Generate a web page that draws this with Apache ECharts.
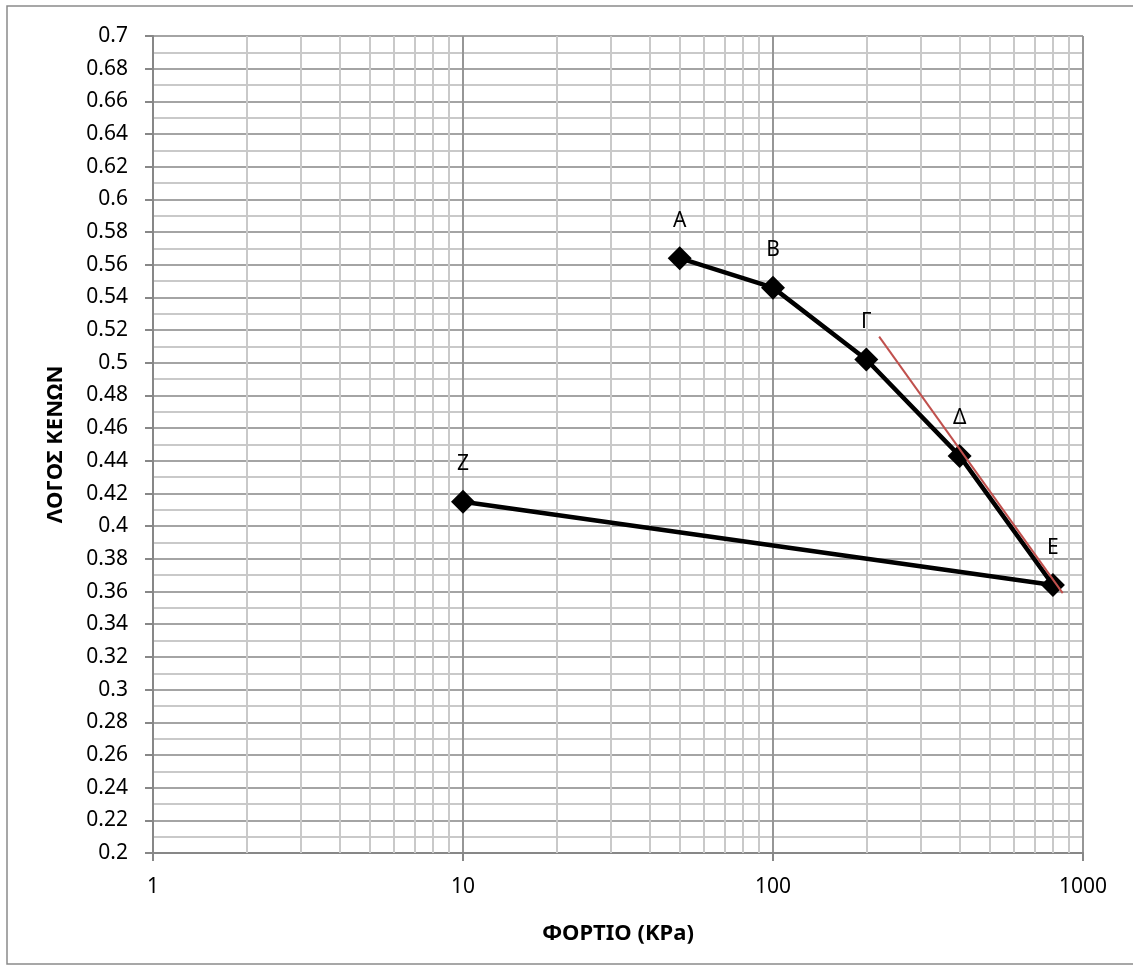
<!DOCTYPE html>
<html>
<head>
<meta charset="utf-8">
<script src="https://cdn.jsdelivr.net/npm/echarts@6/dist/echarts.min.js"></script>
<style>
  html, body { margin: 0; padding: 0; background: #ffffff; }
  #chart { width: 1133px; height: 971px; }
</style>
</head>
<body>
<div id="chart"></div>
<script>
// Oedometer test: void ratio against applied load (log scale)
const loads = [50, 100, 200, 400, 800, 10];
const voidRatios = [0.564, 0.546, 0.502, 0.443, 0.364, 0.415];
const pointNames = ['Α', 'Β', 'Γ', 'Δ', 'Ε', 'Ζ'];

// Tangent to the virgin compression branch
const tangentLoads = [220, 860];
const tangentRatios = [0.516, 0.359];

// Intermediate log-cycle grid lines (2..9 in each decade)
const minorLoads = [2, 3, 4, 5, 6, 7, 8, 9,
                    20, 30, 40, 50, 60, 70, 80, 90,
                    200, 300, 400, 500, 600, 700, 800, 900];

const xTitle = 'ΦΟΡΤΙΟ (KPa)';
const yTitle = 'ΛΟΓΟΣ ΚΕΝΩΝ';

const FONT = '"Noto Sans", "Open Sans", sans-serif';
const AXIS_GREY = '#878787';
const MAJOR_GREY = '#a4a4a4';
const MINOR_GREY = '#c9c9c9';

const curve = loads.map((x, i) => ({ value: [x, voidRatios[i]], name: pointNames[i] }));
const tangent = tangentLoads.map((x, i) => [x, tangentRatios[i]]);

const chart = echarts.init(document.getElementById('chart'), null, { renderer: 'canvas' });

chart.setOption({
  backgroundColor: '#ffffff',
  animation: false,
  graphic: [{
    type: 'rect',
    shape: { x: 7, y: 6, width: 1140, height: 958 },
    style: { fill: 'none', stroke: '#8a8a8a', lineWidth: 1.5 },
    z: -1
  }],
  grid: { left: 153, right: 50, top: 36, bottom: 118, containLabel: false },
  xAxis: {
    type: 'log',
    logBase: 10,
    min: 1,
    max: 1000,
    name: xTitle,
    nameLocation: 'middle',
    nameGap: 70,
    nameTextStyle: { fontFamily: FONT, fontSize: 22, fontWeight: 'bold', color: '#000' },
    axisLine: { show: true, lineStyle: { color: AXIS_GREY, width: 2 } },
    axisTick: { show: true, inside: false, length: 8, lineStyle: { color: AXIS_GREY, width: 2 } },
    axisLabel: { fontFamily: FONT, fontSize: 21, color: '#000', margin: 24, formatter: v => String(v) },
    splitLine: { show: true, lineStyle: { color: '#969696', width: 2 } },
    minorTick: { show: false },
    minorSplitLine: { show: false }
  },
  yAxis: {
    type: 'value',
    min: 0.2,
    max: 0.7,
    interval: 0.02,
    name: yTitle,
    nameLocation: 'middle',
    nameGap: 86,
    nameRotate: 90,
    nameTextStyle: { fontFamily: FONT, fontSize: 22, fontWeight: 'bold', color: '#000' },
    axisLine: { show: true, lineStyle: { color: AXIS_GREY, width: 2 } },
    axisTick: { show: true, inside: false, length: 8, lineStyle: { color: AXIS_GREY, width: 2 } },
    axisLabel: {
      fontFamily: FONT, fontSize: 21, color: '#000', margin: 25,
      formatter: v => String(+v.toFixed(2))
    },
    splitLine: { show: true, lineStyle: { color: MAJOR_GREY, width: 2 } },
    minorTick: { show: false, splitNumber: 2 },
    minorSplitLine: { show: true, lineStyle: { color: MINOR_GREY, width: 2 } }
  },
  series: [
    {
      // carrier for the intermediate vertical grid lines
      type: 'line',
      data: [],
      z: 1,
      silent: true,
      markLine: {
        z: 1,
        silent: true,
        animation: false,
        symbol: ['none', 'none'],
        label: { show: false },
        lineStyle: { color: MINOR_GREY, width: 2, type: 'solid' },
        data: minorLoads.map(v => ({ xAxis: v }))
      }
    },
    {
      type: 'line',
      data: curve,
      z: 10,
      symbol: 'diamond',
      symbolSize: 24,
      itemStyle: { color: '#000' },
      lineStyle: { color: '#000', width: 4.5 },
      label: {
        show: true,
        position: 'top',
        distance: 15,
        formatter: p => p.name,
        fontFamily: FONT,
        fontSize: 21,
        color: '#000'
      },
      emphasis: { disabled: true }
    },
    {
      type: 'line',
      data: tangent,
      z: 11,
      symbol: 'none',
      lineStyle: { color: '#c0504d', width: 2 },
      emphasis: { disabled: true }
    }
  ]
});
</script>
</body>
</html>
